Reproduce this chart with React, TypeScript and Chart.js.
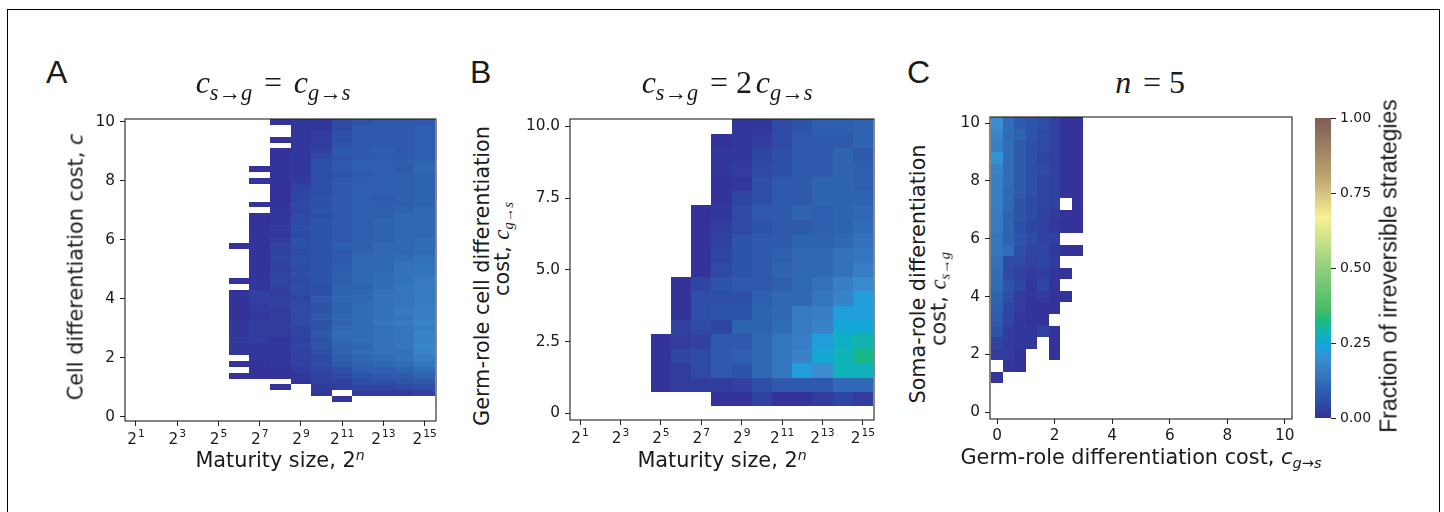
import React, { useEffect, useRef } from "react";
import { Chart, registerables } from "chart.js";

Chart.register(...registerables);

const _ = null;

// ---------------- Panel A : c_{s->g} = c_{g->s} ----------------
const A_SIZE_EXP = [6, 7, 8, 9, 10, 11, 12, 13, 14, 15];
const A_COST = [
  10.0, 9.8, 9.6, 9.4, 9.2, 9.0, 8.8, 8.6, 8.4, 8.2, 8.0, 7.8, 7.6, 7.4, 7.2, 7.0,
  6.8, 6.6, 6.4, 6.2, 6.0, 5.8, 5.6, 5.4, 5.2, 5.0, 4.8, 4.6, 4.4, 4.2, 4.0, 3.8,
  3.6, 3.4, 3.2, 3.0, 2.8, 2.6, 2.4, 2.2, 2.0, 1.8, 1.6, 1.4, 1.2, 1.0, 0.8, 0.6,
];
// fraction of irreversible strategies, in percent (rows follow A_COST, columns A_SIZE_EXP)
const A_FRACTION_PCT = [
  [_, _, 0, 1, 1, 5, 7, 8, 8, 8],
  [_, _, _, 1, 1, 5, 8, 8, 8, 9],
  [_, _, _, 1, 2, 6, 8, 8, 8, 9],
  [_, _, 0, 1, 2, 6, 8, 8, 8, 9],
  [_, _, _, 1, 2, 7, 8, 8, 8, 9],
  [_, _, 0, 1, 3, 8, 8, 9, 8, 9],
  [_, _, 0, 1, 5, 7, 8, 8, 8, 9],
  [_, _, 0, 1, 6, 8, 9, 9, 9, 10],
  [_, 0, 0, 1, 6, 8, 9, 9, 8, 11],
  [_, _, 0, 1, 6, 7, 8, 9, 9, 10],
  [_, 0, 0, 2, 6, 8, 9, 9, 9, 10],
  [_, _, 0, 3, 6, 8, 9, 9, 9, 10],
  [_, _, 0, 4, 6, 8, 9, 9, 9, 10],
  [_, _, 0, 4, 7, 8, 9, 8, 9, 10],
  [_, 0, 0, 5, 6, 8, 9, 9, 9, 10],
  [_, _, 1, 4, 7, 8, 9, 9, 10, 11],
  [_, 0, 1, 5, 6, 8, 9, 9, 11, 11],
  [_, 0, 1, 5, 7, 8, 9, 10, 11, 11],
  [_, 0, 2, 6, 7, 8, 9, 10, 11, 11],
  [_, 0, 1, 5, 7, 8, 9, 10, 11, 11],
  [_, 0, 2, 6, 7, 8, 9, 10, 11, 12],
  [0, 0, 3, 6, 7, 9, 9, 11, 11, 12],
  [_, 0, 3, 5, 7, 8, 10, 11, 11, 12],
  [_, 0, 4, 6, 7, 8, 11, 11, 12, 13],
  [_, 0, 3, 6, 7, 8, 11, 11, 13, 13],
  [_, 0, 3, 5, 7, 9, 11, 11, 13, 14],
  [_, 0, 4, 6, 7, 9, 11, 12, 13, 14],
  [0, 1, 4, 5, 7, 9, 11, 12, 13, 15],
  [_, 1, 3, 6, 6, 10, 10, 12, 14, 15],
  [0, 3, 2, 5, 6, 10, 11, 13, 14, 15],
  [0, 3, 3, 4, 8, 11, 11, 13, 14, 15],
  [0, 2, 3, 5, 7, 10, 12, 13, 14, 16],
  [0, 2, 2, 5, 7, 10, 12, 13, 15, 16],
  [0, 1, 2, 5, 8, 11, 12, 13, 14, 16],
  [1, 2, 2, 5, 7, 10, 12, 14, 15, 17],
  [1, 2, 2, 4, 7, 11, 12, 13, 14, 16],
  [1, 2, 2, 4, 8, 12, 12, 13, 14, 17],
  [2, 2, 1, 3, 7, 11, 12, 13, 14, 17],
  [1, 1, 1, 4, 7, 10, 11, 13, 14, 18],
  [1, 1, 1, 3, 6, 10, 12, 13, 13, 17],
  [_, 1, 1, 3, 5, 9, 11, 12, 13, 16],
  [0, 0, 1, 3, 5, 8, 10, 11, 12, 14],
  [_, 0, 0, 2, 4, 6, 9, 9, 10, 12],
  [0, 0, 0, 1, 3, 5, 7, 8, 8, 10],
  [_, _, _, 0, 3, 3, 6, 6, 7, 8],
  [_, _, 0, _, 2, 2, 4, 4, 5, 6],
  [_, _, _, _, 1, _, 2, 2, 2, 3],
  [_, _, _, _, _, 0, _, _, _, _],
];

// ---------------- Panel B : c_{s->g} = 2 c_{g->s} ----------------
const B_SIZE_EXP = [5, 6, 7, 8, 9, 10, 11, 12, 13, 14, 15];
const B_COST = [10.0, 9.5, 9.0, 8.5, 8.0, 7.5, 7.0, 6.5, 6.0, 5.5, 5.0, 4.5, 4.0, 3.5, 3.0, 2.5, 2.0, 1.5, 1.0, 0.5];
const B_FRACTION_PCT = [
  [_, _, _, _, 1, 1, 5, 7, 9, 9, 10],
  [_, _, _, 0, 1, 2, 5, 8, 8, 8, 10],
  [_, _, _, 1, 1, 4, 6, 8, 8, 10, 8],
  [_, _, _, 1, 2, 5, 6, 8, 8, 10, 9],
  [_, _, _, 0, 1, 6, 8, 8, 10, 10, 9],
  [_, _, _, 0, 4, 6, 8, 8, 10, 10, 10],
  [_, _, 0, 1, 5, 8, 8, 10, 9, 10, 11],
  [_, _, 0, 2, 5, 7, 8, 8, 9, 10, 12],
  [_, _, 0, 3, 7, 8, 8, 10, 10, 11, 13],
  [_, _, 0, 4, 7, 8, 9, 11, 11, 13, 14],
  [_, _, 0, 5, 7, 8, 10, 11, 11, 13, 16],
  [_, 0, 4, 7, 8, 8, 9, 11, 13, 16, 19],
  [_, 0, 6, 6, 6, 9, 11, 11, 14, 17, 23],
  [_, 0, 6, 7, 7, 10, 11, 15, 16, 23, 23],
  [_, 3, 5, 4, 10, 10, 12, 15, 17, 25, 25],
  [0, 2, 3, 8, 8, 11, 14, 16, 23, 27, 29],
  [0, 4, 5, 8, 9, 11, 14, 17, 25, 28, 32],
  [0, 2, 5, 8, 7, 11, 14, 23, 20, 28, 28],
  [0, 2, 2, 2, 3, 6, 8, 8, 8, 11, 11],
  [_, _, _, 0, 0, 3, 0, 0, 2, 4, 2],
];

// ---------------- Panel C : n = 5 ----------------
const C_GERM_COST = [0, 0.4, 0.8, 1.2, 1.6, 2.0, 2.4, 2.8];
const C_SOMA_COST = [10.0, 9.6, 9.2, 8.8, 8.4, 8.0, 7.6, 7.2, 6.8, 6.4, 6.0, 5.6, 5.2, 4.8, 4.4, 4.0, 3.6, 3.2, 2.8, 2.4, 2.0, 1.6, 1.2];
const C_FRACTION_PCT = [
  [20, 12, 8, 7, 6, 3, 0, 0],
  [18, 12, 10, 7, 5, 3, 0, 0],
  [16, 12, 8, 6, 5, 3, 0, 0],
  [21, 12, 8, 6, 4, 3, 0, 0],
  [17, 12, 8, 6, 5, 3, 0, 0],
  [16, 12, 8, 6, 4, 3, 0, 0],
  [16, 11, 8, 6, 4, 3, 0, 0],
  [16, 11, 7, 5, 4, 3, _, 0],
  [15, 10, 7, 5, 3, 2, 0, 0],
  [15, 10, 6, 4, 3, 1, 0, 0],
  [14, 10, 7, 5, 3, 3, _, _],
  [14, 12, 6, 4, 4, 1, 0, 0],
  [13, 5, 5, 3, 4, 2, _, _],
  [12, 5, 3, 2, 2, 1, 0, _],
  [12, 7, 4, 1, 4, 0, _, _],
  [10, 6, 2, 1, 2, 0, 0, _],
  [9, 4, 2, 0, 0, 0, _, _],
  [8, 4, 1, 0, 0, _, _, _],
  [7, 2, 1, 1, 3, 0, _, _],
  [3, 2, 1, 1, _, 0, _, _],
  [2, 2, 0, _, _, 0, _, _],
  [_, 1, 0, _, _, _, _, _],
  [0, _, _, _, _, _, _, _],
];

// ---------------- tick labels ----------------
const SIZE_TICKS = [1, 3, 5, 7, 9, 11, 13, 15];
const SIZE_TICK_BASE = "2";
const SIZE_TICK_EXPONENTS = ["1", "3", "5", "7", "9", "11", "13", "15"];
const A_Y_TICKS = [0, 2, 4, 6, 8, 10];
const A_Y_LABELS = ["0", "2", "4", "6", "8", "10"];
const B_Y_TICKS = [0, 2.5, 5, 7.5, 10];
const B_Y_LABELS = ["0", "2.5", "5.0", "7.5", "10.0"];
const C_TICKS = [0, 2, 4, 6, 8, 10];
const C_TICK_LABELS = ["0", "2", "4", "6", "8", "10"];
const CBAR_TICKS = [0, 0.25, 0.5, 0.75, 1];
const CBAR_LABELS = ["0.00", "0.25", "0.50", "0.75", "1.00"];

// colour map (terrain-like, as in the colour bar)
const CMAP_STOPS: number[][] = [
  [0.0, 51, 51, 153],
  [0.05, 46, 74, 164],
  [0.1, 46, 99, 178],
  [0.15, 54, 122, 194],
  [0.2, 58, 142, 208],
  [0.24, 22, 163, 222],
  [0.28, 14, 180, 186],
  [0.32, 26, 184, 136],
  [0.36, 70, 188, 102],
  [0.5, 145, 207, 126],
  [0.67, 247, 241, 146],
  [0.8, 190, 165, 112],
  [1.0, 126, 92, 84],
];

function cmap(v: number): string {
  const t = Math.max(0, Math.min(1, v));
  for (let i = 1; i < CMAP_STOPS.length; i++) {
    const a = CMAP_STOPS[i - 1];
    const b = CMAP_STOPS[i];
    if (t <= b[0]) {
      const f = (t - a[0]) / (b[0] - a[0]);
      const r = Math.round(a[1] + (b[1] - a[1]) * f);
      const g = Math.round(a[2] + (b[2] - a[2]) * f);
      const bl = Math.round(a[3] + (b[3] - a[3]) * f);
      return `rgb(${r},${g},${bl})`;
    }
  }
  const l = CMAP_STOPS[CMAP_STOPS.length - 1];
  return `rgb(${l[1]},${l[2]},${l[3]})`;
}

const TEXT = "#1a1a1a";
const SANS = '"DejaVu Sans", sans-serif';
const TICK_SIZE = 15.3;

const heatPlugin = {
  id: "heat",
  beforeDatasetsDraw(chart: any, _args: any, opts: any) {
    const { ctx, chartArea: a } = chart;
    const xs = chart.scales.x;
    const ys = chart.scales.y;
    const pts = chart.data.datasets[0].data;
    ctx.save();
    ctx.beginPath();
    ctx.rect(a.left, a.top, a.right - a.left, a.bottom - a.top);
    ctx.clip();
    for (const p of pts) {
      const x0 = Math.round(xs.getPixelForValue(p.x - opts.w / 2));
      const x1 = Math.round(xs.getPixelForValue(p.x + opts.w / 2));
      const y0 = Math.round(ys.getPixelForValue(p.y + opts.h / 2));
      const y1 = Math.round(ys.getPixelForValue(p.y - opts.h / 2));
      ctx.fillStyle = cmap(p.v);
      ctx.fillRect(x0, y0, x1 - x0, y1 - y0);
    }
    ctx.restore();
  },
};

const framePlugin = {
  id: "frame",
  afterDraw(chart: any) {
    const { ctx, chartArea: a } = chart;
    ctx.save();
    ctx.strokeStyle = "#222";
    ctx.lineWidth = 1.1;
    ctx.strokeRect(a.left, a.top, a.right - a.left, a.bottom - a.top);
    ctx.restore();
  },
};

// draws "2^n" style tick labels (base + raised exponent) at the x scale's ticks
const powTickPlugin = {
  id: "powTicks",
  afterDraw(chart: any, _args: any, opts: any) {
    if (!opts || !opts.exps) return;
    const { ctx, chartArea: a } = chart;
    const xs = chart.scales.x;
    ctx.save();
    ctx.fillStyle = TEXT;
    ctx.textAlign = "left";
    ctx.textBaseline = "alphabetic";
    const bigFont = `${TICK_SIZE}px ${SANS}`;
    const smallFont = `${TICK_SIZE * 0.7}px ${SANS}`;
    xs.ticks.forEach((t: any, i: number) => {
      const px = xs.getPixelForValue(t.value);
      ctx.font = bigFont;
      const wb = ctx.measureText(opts.base).width;
      ctx.font = smallFont;
      const we = ctx.measureText(opts.exps[i]).width;
      const x0 = px - (wb + we + 1) / 2;
      const yb = a.bottom + opts.dy;
      ctx.font = bigFont;
      ctx.fillText(opts.base, x0, yb);
      ctx.font = smallFont;
      ctx.fillText(opts.exps[i], x0 + wb + 1, yb - 6.3);
    });
    ctx.restore();
  },
};

type Spec = {
  box: number[];
  yW: number;
  xH: number;
  padTop: number;
  padRight: number;
  xMin: number;
  xMax: number;
  yMin: number;
  yMax: number;
  xTicks: number[];
  xLabels: string[] | null;
  yTicks: number[];
  yLabels: string[];
  cols: number[];
  rows: number[];
  values: (number | null)[][];
  cellW: number;
  cellH: number;
};

function axisCommon(ticks: number[], labels: string[] | null, pad: number) {
  return {
    type: "linear" as const,
    afterBuildTicks: (s: any) => {
      s.ticks = ticks.map((v) => ({ value: v }));
    },
    grid: {
      display: true,
      drawOnChartArea: false,
      drawTicks: true,
      tickLength: 5,
      tickColor: "#222",
      tickWidth: 1,
    },
    border: { display: false },
    ticks: {
      autoSkip: false,
      maxRotation: 0,
      minRotation: 0,
      padding: pad,
      color: TEXT,
      font: { family: SANS, size: TICK_SIZE },
      callback: (_v: any, i: number) => (labels ? labels[i] : ""),
    },
  };
}

function buildConfig(s: Spec): any {
  const data: any[] = [];
  s.values.forEach((row, i) =>
    row.forEach((v, j) => {
      if (v !== null) data.push({ x: s.cols[j], y: s.rows[i], v: v / 100 });
    })
  );
  return {
    type: "scatter",
    data: { datasets: [{ data, pointRadius: 0, pointHoverRadius: 0 }] },
    options: {
      responsive: false,
      animation: false,
      events: [],
      layout: { padding: { left: 0, top: s.padTop, right: s.padRight, bottom: 0 } },
      plugins: {
        legend: { display: false },
        tooltip: { enabled: false },
        heat: { w: s.cellW, h: s.cellH },
        powTicks: s.xLabels ? {} : { base: SIZE_TICK_BASE, exps: SIZE_TICK_EXPONENTS, dy: 22.5 },
      },
      scales: {
        x: {
          ...axisCommon(s.xTicks, s.xLabels, 3),
          min: s.xMin,
          max: s.xMax,
          afterFit: (sc: any) => {
            sc.height = s.xH;
          },
        },
        y: {
          ...axisCommon(s.yTicks, s.yLabels, 5),
          min: s.yMin,
          max: s.yMax,
          afterFit: (sc: any) => {
            sc.width = s.yW;
          },
        },
      },
    },
    plugins: [heatPlugin, framePlugin, powTickPlugin],
  };
}

function HeatPanel({ spec }: { spec: Spec }) {
  const ref = useRef<HTMLCanvasElement>(null);
  useEffect(() => {
    const chart = new Chart(ref.current as HTMLCanvasElement, buildConfig(spec));
    return () => chart.destroy();
  }, []);
  const [l, t, w, h] = spec.box;
  return (
    <canvas
      ref={ref}
      width={w}
      height={h}
      style={{ position: "absolute", left: l, top: t, width: w, height: h }}
    />
  );
}

const gradientPlugin = {
  id: "gradient",
  beforeDatasetsDraw(chart: any) {
    const { ctx, chartArea: a } = chart;
    const ys = chart.scales.y;
    ctx.save();
    for (let py = Math.floor(a.top); py < Math.ceil(a.bottom); py++) {
      const v = ys.getValueForPixel(py + 0.5);
      ctx.fillStyle = cmap(v);
      ctx.fillRect(a.left, py, a.right - a.left, 1);
    }
    ctx.restore();
  },
};

function ColorBar() {
  const ref = useRef<HTMLCanvasElement>(null);
  useEffect(() => {
    const chart = new Chart(ref.current as HTMLCanvasElement, {
      type: "scatter",
      data: { datasets: [{ data: [], pointRadius: 0 }] },
      options: {
        responsive: false,
        animation: false,
        events: [],
        layout: { padding: { left: 15, top: 18, right: 15, bottom: 42 } },
        plugins: { legend: { display: false }, tooltip: { enabled: false } },
        scales: {
          x: { type: "linear", display: false, min: 0, max: 1 },
          y: {
            ...axisCommon(CBAR_TICKS, CBAR_LABELS, 4),
            position: "right",
            min: 0,
            max: 1,
            ticks: {
              autoSkip: false,
              padding: 4,
              color: TEXT,
              font: { family: SANS, size: 14 },
              callback: (_v: any, i: number) => CBAR_LABELS[i],
            },
            afterFit: (sc: any) => {
              sc.width = 54;
            },
          },
        },
      } as any,
      plugins: [gradientPlugin],
    });
    return () => chart.destroy();
  }, []);
  return (
    <canvas
      ref={ref}
      width={100}
      height={360}
      style={{ position: "absolute", left: 1300, top: 100, width: 100, height: 360 }}
    />
  );
}

const SPEC_A: Spec = {
  box: [80, 100, 380, 360],
  yW: 45,
  xH: 39,
  padTop: 19,
  padRight: 24,
  xMin: 0.47,
  xMax: 15.55,
  yMin: -0.14,
  yMax: 10.1,
  xTicks: SIZE_TICKS,
  xLabels: null,
  yTicks: A_Y_TICKS,
  yLabels: A_Y_LABELS,
  cols: A_SIZE_EXP,
  rows: A_COST,
  values: A_FRACTION_PCT,
  cellW: 1,
  cellH: 0.2,
};

const SPEC_B: Spec = {
  box: [520, 100, 380, 360],
  yW: 50,
  xH: 40,
  padTop: 19,
  padRight: 26,
  xMin: 0.5,
  xMax: 15.55,
  yMin: -0.23,
  yMax: 10.26,
  xTicks: SIZE_TICKS,
  xLabels: null,
  yTicks: B_Y_TICKS,
  yLabels: B_Y_LABELS,
  cols: B_SIZE_EXP,
  rows: B_COST,
  values: B_FRACTION_PCT,
  cellW: 1,
  cellH: 0.5,
};

const SPEC_C: Spec = {
  box: [940, 100, 380, 360],
  yW: 50,
  xH: 41,
  padTop: 17,
  padRight: 28,
  xMin: -0.25,
  xMax: 10.25,
  yMin: -0.23,
  yMax: 10.21,
  xTicks: C_TICKS,
  xLabels: C_TICK_LABELS,
  yTicks: C_TICKS,
  yLabels: C_TICK_LABELS,
  cols: C_GERM_COST,
  rows: C_SOMA_COST,
  values: C_FRACTION_PCT,
  cellW: 0.4,
  cellH: 0.4,
};

const abs = (extra: React.CSSProperties): React.CSSProperties => ({
  position: "absolute",
  whiteSpace: "nowrap",
  color: TEXT,
  ...extra,
});

const sub = (size = "0.7em", top = "0.3em"): React.CSSProperties => ({
  fontSize: size,
  position: "relative",
  top,
});

function Vert({ x, y, size, family, children }: any) {
  return (
    <div
      style={abs({
        left: x,
        top: y,
        fontFamily: family || SANS,
        fontSize: size,
        lineHeight: `${size}px`,
        transform: "translate(-50%, -50%) rotate(-90deg)",
      })}
    >
      {children}
    </div>
  );
}

function Horiz({ x, top, size, family, italic, children }: any) {
  return (
    <div
      style={abs({
        left: x,
        top,
        fontFamily: family || SANS,
        fontStyle: italic ? "italic" : "normal",
        fontSize: size,
        lineHeight: `${size}px`,
        transform: "translateX(-50%)",
      })}
    >
      {children}
    </div>
  );
}

const SERIF = '"Liberation Serif", "DejaVu Serif", serif';
const HELV = '"Liberation Sans", Arial, sans-serif';
const EQ: React.CSSProperties = { fontStyle: "normal", margin: "0 0.12em" };

export default function App() {
  return (
    <div
      style={{
        position: "fixed",
        left: 0,
        top: 0,
        width: 1444,
        height: 512,
        background: "#fff",
        overflow: "hidden",
      }}
    >
      <div
        style={{
          position: "absolute",
          left: 7,
          top: 9,
          width: 1431,
          height: 560,
          border: "1px solid #000",
        }}
      />

      <HeatPanel spec={SPEC_A} />
      <HeatPanel spec={SPEC_B} />
      <HeatPanel spec={SPEC_C} />
      <ColorBar />

      {/* panel letters */}
      <div style={abs({ left: 46, top: 56, fontFamily: HELV, fontSize: 32, lineHeight: "32px" })}>A</div>
      <div style={abs({ left: 470, top: 56, fontFamily: HELV, fontSize: 32, lineHeight: "32px" })}>B</div>
      <div style={abs({ left: 907, top: 56, fontFamily: HELV, fontSize: 32, lineHeight: "32px" })}>C</div>

      {/* titles */}
      <Horiz x={273} top={66} size={32} family={SERIF} italic>
        c<span style={sub()}>s→g</span>
        <span style={EQ}> = </span>c<span style={sub()}>g→s</span>
      </Horiz>
      <Horiz x={727} top={66} size={32} family={SERIF} italic>
        c<span style={sub()}>s→g</span>
        <span style={EQ}> = 2</span>c<span style={sub()}>g→s</span>
      </Horiz>
      <Horiz x={1152} top={66} size={32} family={SERIF} italic>
        n<span style={EQ}> = 5</span>
      </Horiz>

      {/* x-axis titles */}
      <Horiz x={280} top={450} size={20.8}>
        Maturity size, 2<span style={{ ...sub("0.68em", "-0.5em"), fontStyle: "italic" }}>n</span>
      </Horiz>
      <Horiz x={722} top={450} size={20.8}>
        Maturity size, 2<span style={{ ...sub("0.68em", "-0.5em"), fontStyle: "italic" }}>n</span>
      </Horiz>
      <Horiz x={1141} top={447} size={20.8}>
        Germ-role differentiation cost, <i>c</i>
        <span style={{ ...sub("0.7em", "0.3em"), fontStyle: "italic" }}>g→s</span>
      </Horiz>

      {/* y-axis titles */}
      <Vert x={76} y={267} size={20.8}>
        Cell differentiation cost, <i>c</i>
      </Vert>
      <Vert x={482} y={276} size={20.8}>
        Germ-role cell differentiation
      </Vert>
      <Vert x={503} y={249} size={20.8}>
        cost, <span style={{ fontFamily: SERIF, fontStyle: "italic", fontSize: "1.1em" }}>c</span>
        <span style={{ ...sub("0.7em", "0.3em"), fontFamily: SERIF, fontStyle: "italic" }}>g→s</span>
      </Vert>
      <Vert x={918} y={274} size={20.8}>
        Soma-role differentiation
      </Vert>
      <Vert x={940} y={299} size={20.8}>
        cost, <span style={{ fontFamily: SERIF, fontStyle: "italic", fontSize: "1.1em" }}>c</span>
        <span style={{ ...sub("0.7em", "0.3em"), fontFamily: SERIF, fontStyle: "italic" }}>s→g</span>
      </Vert>

      {/* colour bar title */}
      <Vert x={1389} y={266} size={23} family={HELV}>
        Fraction of irreversible strategies
      </Vert>
    </div>
  );
}
